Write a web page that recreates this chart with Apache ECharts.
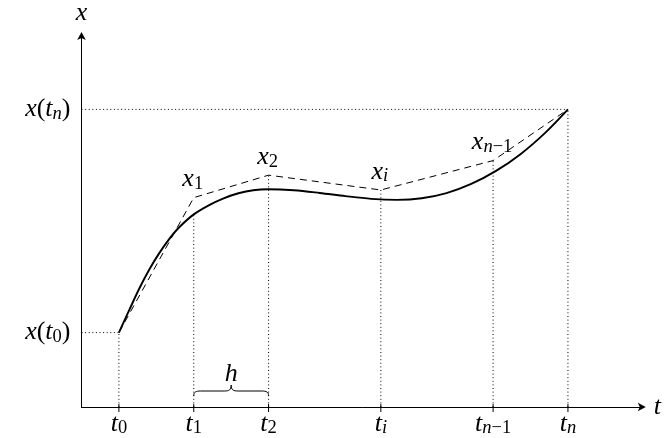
<!DOCTYPE html>
<html><head><meta charset="utf-8">
<script src="https://cdn.jsdelivr.net/npm/echarts@6/dist/echarts.min.js"></script>
<style>html,body{margin:0;padding:0;background:#fff}#c{width:664px;height:438px}</style>
</head><body><div id="c"></div>
<script>
// ---- data ----
const tickT = [0.5, 1.5, 2.5, 4, 5.5, 6.5];
const tickSubs = ['0', '1', '2', 'i', 'n−1', 'n'];
const guideTop = [1, 2.589, 3.116, 2.917, 3.312, 4];
const yTickVals = [1, 4];
const yTickSubs = ['0', 'n'];
const yGuideEnd = [0.5, 6.5];
const curveT = [0.5, 0.642, 0.774, 0.906, 1.039, 1.171, 1.303, 1.5, 1.700, 1.899, 2.097, 2.296, 2.494, 2.838, 3.182, 3.527, 3.871, 4.215, 4.546, 4.877, 5.208, 5.539, 5.870, 6.199, 6.5];
const curveX = [1.0, 1.312, 1.596, 1.848, 2.068, 2.257, 2.413, 2.589, 2.711, 2.805, 2.873, 2.914, 2.927, 2.913, 2.877, 2.834, 2.798, 2.784, 2.805, 2.875, 2.998, 3.173, 3.402, 3.688, 4.0];
const eulerT = [0.5, 1.5, 2.5, 4, 5.5, 6.5];
const eulerX = [1.0, 2.814, 3.116, 2.917, 3.312, 4.0];
const pointIdx = [1, 2, 3, 4];
const pointSubs = ['1', '2', 'i', 'n−1'];
const braceRange = [1.5, 2.5];
const braceLabel = 'h';

// ---- style ----
const FONT = 'Liberation Serif';
const FS = 26, SFS = 18.5;
const rich = {
  i: { fontFamily: FONT, fontStyle: 'italic', fontSize: FS, lineHeight: 28, color: '#000' },
  u: { fontFamily: FONT, fontSize: FS, lineHeight: 28, color: '#000' },
  si: { fontFamily: FONT, fontStyle: 'italic', fontSize: SFS, lineHeight: 14, verticalAlign: 'bottom', color: '#000' },
  su: { fontFamily: FONT, fontSize: SFS, lineHeight: 14, verticalAlign: 'bottom', color: '#000' }
};
function sub(s) {
  return s.split('').map(ch => /[a-z]/i.test(ch) ? '{si|' + ch + '}' : '{su|' + ch + '}').join('');
}
function idxOf(arr, v) { return arr.findIndex(a => Math.abs(a - v) < 1e-6); }

const chart = echarts.init(document.getElementById('c'), null, { renderer: 'canvas' });
chart.setOption({
  animation: false,
  backgroundColor: '#fff',
  grid: { left: 81.5, top: 31.3, width: 566.8, height: 376.7 },
  xAxis: {
    type: 'value', min: 0, max: 7.5,
    axisLine: { show: true, symbol: ['none', 'arrow'], symbolSize: [6.5, 8], symbolOffset: [0, 3], lineStyle: { color: '#000', width: 1 } },
    axisTick: { show: false },
    splitLine: { show: false },
    axisLabel: {
      customValues: tickT, margin: 3, rich: rich,
      formatter: function (v) { const k = idxOf(tickT, v); return k < 0 ? '' : '{i|t}' + sub(tickSubs[k]); }
    },
    name: 't', nameLocation: 'end', nameGap: 11,
    nameTextStyle: { fontFamily: FONT, fontStyle: 'italic', fontSize: FS, color: '#000', padding: [0, 0, 9, 0] }
  },
  yAxis: {
    type: 'value', min: 0, max: 5,
    axisLine: { show: true, symbol: ['none', 'arrow'], symbolSize: [6.5, 8], symbolOffset: [0, 3], lineStyle: { color: '#000', width: 1 } },
    axisTick: { show: false },
    splitLine: { show: false },
    axisLabel: {
      customValues: yTickVals, margin: 11, rich: rich,
      formatter: function (v) { const k = idxOf(yTickVals, v); return k < 0 ? '' : '{i|x}{u|(}{i|t}' + sub(yTickSubs[k]) + '{u|)}'; }
    },
    name: 'x', nameLocation: 'end', nameGap: 9,
    nameTextStyle: { fontFamily: FONT, fontStyle: 'italic', fontSize: FS, color: '#000' }
  },
  series: [
    {
      type: 'custom', silent: true, z: 1,
      data: tickT.map((t, i) => [t, guideTop[i]]),
      renderItem: function (params, api) {
        const p0 = api.coord([api.value(0), 0]);
        const p1 = api.coord([api.value(0), api.value(1)]);
        return { type: 'group', children: [
          { type: 'line', shape: { x1: p0[0], y1: p0[1], x2: p1[0], y2: p1[1] }, style: { stroke: '#000', lineWidth: 1, lineDash: [1, 2.6] } },
          { type: 'line', shape: { x1: p0[0], y1: p0[1] - 3, x2: p0[0], y2: p0[1] + 5 }, style: { stroke: '#000', lineWidth: 1 } }
        ] };
      }
    },
    {
      type: 'custom', silent: true, z: 1,
      data: yTickVals.map((v, i) => [yGuideEnd[i], v]),
      renderItem: function (params, api) {
        const p0 = api.coord([0, api.value(1)]);
        const p1 = api.coord([api.value(0), api.value(1)]);
        return { type: 'line', shape: { x1: p0[0], y1: p0[1], x2: p1[0], y2: p1[1] }, style: { stroke: '#000', lineWidth: 1, lineDash: [1, 2.6] } };
      }
    },
    {
      type: 'line', z: 3, symbol: 'none', silent: true,
      data: eulerT.map((t, i) => [t, eulerX[i]]),
      lineStyle: { color: '#000', width: 1, type: [7, 5] }
    },
    {
      type: 'line', z: 4, symbol: 'none', silent: true, smooth: 0.33,
      data: curveT.map((t, i) => [t, curveX[i]]),
      lineStyle: { color: '#000', width: 1.9 }
    },
    {
      type: 'scatter', z: 5, silent: true, symbol: 'circle', symbolSize: 1,
      itemStyle: { color: 'rgba(0,0,0,0)', opacity: 1 },
      data: pointIdx.map(k => [eulerT[k], eulerX[k]]),
      label: {
        show: true, position: 'inside', offset: [-1, -18], color: '#000', rich: rich,
        formatter: function (p) { return '{i|x}' + sub(pointSubs[p.dataIndex]); }
      }
    },
    {
      type: 'custom', silent: true, z: 5,
      data: [[braceRange[0], 0, braceRange[1]]],
      encode: { x: [0, 2], y: 1 },
      renderItem: function (params, api) {
        const a = api.coord([api.value(0), api.value(1)]);
        const b = api.coord([api.value(2), api.value(1)]);
        const x1 = a[0], x2 = b[0], xm = (x1 + x2) / 2, yb = a[1] - 11;
        const d = 'M' + x1 + ' ' + yb +
          ' C' + x1 + ' ' + (yb - 4) + ' ' + (x1 + 2) + ' ' + (yb - 5) + ' ' + (x1 + 7) + ' ' + (yb - 5) +
          ' L' + (xm - 7) + ' ' + (yb - 5) +
          ' C' + (xm - 2) + ' ' + (yb - 5) + ' ' + xm + ' ' + (yb - 6) + ' ' + xm + ' ' + (yb - 11) +
          ' C' + xm + ' ' + (yb - 6) + ' ' + (xm + 2) + ' ' + (yb - 5) + ' ' + (xm + 7) + ' ' + (yb - 5) +
          ' L' + (x2 - 7) + ' ' + (yb - 5) +
          ' C' + (x2 - 2) + ' ' + (yb - 5) + ' ' + x2 + ' ' + (yb - 4) + ' ' + x2 + ' ' + yb;
        return { type: 'group', children: [
          { type: 'path', shape: { pathData: d }, style: { stroke: '#000', lineWidth: 1, fill: null } },
          { type: 'text', style: { text: braceLabel, x: xm, y: yb - 22, font: 'italic ' + FS + 'px "' + FONT + '"', fill: '#000', align: 'center', verticalAlign: 'middle', textAlign: 'center', textVerticalAlign: 'middle' } }
        ] };
      }
    }
  ]
});
</script>
</body></html>
